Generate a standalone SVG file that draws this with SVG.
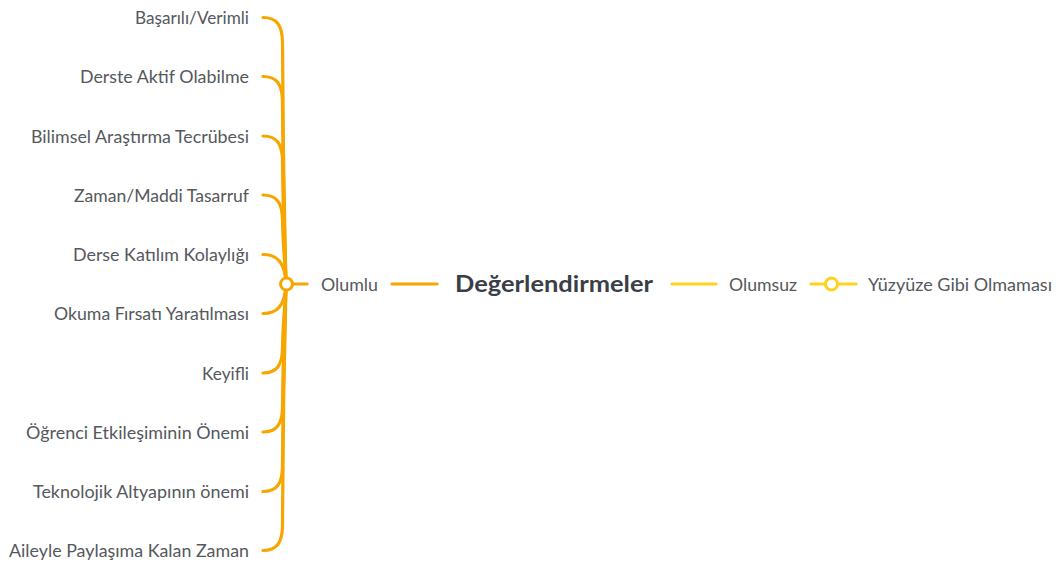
<svg xmlns="http://www.w3.org/2000/svg" width="1056" height="562" viewBox="0 0 1056 562">
<style>
.bg{fill:#ffffff}
.leaf{font-family:Lato,"Open Sans","Liberation Sans",sans-serif;font-size:18px;fill:#55585d}
.main{font-family:Lato,"Open Sans","Liberation Sans",sans-serif;font-size:22px;font-weight:bold;fill:#3a3f47}
.o{fill:none;stroke:#F7A600;stroke-width:3.2;stroke-linecap:round}
.y{fill:none;stroke:#FFD21F;stroke-width:3.2;stroke-linecap:round}
.ring-o{fill:#ffffff;stroke:#F7A600;stroke-width:3}
.ring-y{fill:#ffffff;stroke:#FFD21F;stroke-width:3}
</style>
<rect class="bg" x="0" y="0" width="1056" height="562"/>
<g id="connectors">
<path class="o" d="M263,17.5 C277,17.5 282,25.5 282.5,41.5 C283,162.75 285.5,264 286,284"/>
<path class="o" d="M263,76.5 C277,76.5 282,84.5 282.5,100.5 C283,192 285.5,264 286,284"/>
<path class="o" d="M263,136 C277,136 282,144 282.5,160 C283,222 285.5,264 286,284"/>
<path class="o" d="M263,195 C277,195 282,203 282.5,219 C283,251.5 285.5,266 286,284"/>
<path class="o" d="M263,254.5 C277,254.5 285,262 286,284"/>
<path class="o" d="M263,313.5 C277,313.5 285,306 286,284"/>
<path class="o" d="M263,373 C277,373 282,365 282.5,349 C283,316.5 285.5,302 286,284"/>
<path class="o" d="M263,432 C277,432 282,424 282.5,408 C283,346 285.5,304 286,284"/>
<path class="o" d="M263,491.5 C277,491.5 282,483.5 282.5,467.5 C283,375.75 285.5,304 286,284"/>
<path class="o" d="M263,550.5 C277,550.5 282,542.5 282.5,526.5 C283,405 285.5,304 286,284"/>
<path class="o" d="M292,284 L307,284"/>
<path class="o" d="M392,284 L437,284"/>
<path class="y" d="M672,284 L716,284"/>
<path class="y" d="M811,284 L856,284"/>
</g>
<g id="node-olumlu">
<circle class="ring-o" cx="286.5" cy="284" r="6"/>
<text class="leaf" x="321" y="290.5" textLength="57" lengthAdjust="spacingAndGlyphs">Olumlu</text>
</g>
<g id="node-central">
<text class="main" x="455" y="291.7" textLength="198" lengthAdjust="spacingAndGlyphs">Değerlendirmeler</text>
</g>
<g id="node-olumsuz">
<text class="leaf" x="729" y="290.5" textLength="68" lengthAdjust="spacingAndGlyphs">Olumsuz</text>
</g>
<g id="node-yuzyuze">
<circle class="ring-y" cx="831.5" cy="284" r="6"/>
<text class="leaf" x="868" y="290.5" textLength="184" lengthAdjust="spacingAndGlyphs">Yüzyüze Gibi Olmaması</text>
</g>
<g id="leaf-1"><text class="leaf" x="249" y="24" text-anchor="end" textLength="114" lengthAdjust="spacingAndGlyphs">Başarılı/Verimli</text></g>
<g id="leaf-2"><text class="leaf" x="249" y="83" text-anchor="end" textLength="169" lengthAdjust="spacingAndGlyphs">Derste Aktif Olabilme</text></g>
<g id="leaf-3"><text class="leaf" x="249" y="142.5" text-anchor="end" textLength="218" lengthAdjust="spacingAndGlyphs">Bilimsel Araştırma Tecrübesi</text></g>
<g id="leaf-4"><text class="leaf" x="249" y="201.5" text-anchor="end" textLength="175" lengthAdjust="spacingAndGlyphs">Zaman/Maddi Tasarruf</text></g>
<g id="leaf-5"><text class="leaf" x="249" y="261" text-anchor="end" textLength="176" lengthAdjust="spacingAndGlyphs">Derse Katılım Kolaylığı</text></g>
<g id="leaf-6"><text class="leaf" x="249" y="320" text-anchor="end" textLength="195" lengthAdjust="spacingAndGlyphs">Okuma Fırsatı Yaratılması</text></g>
<g id="leaf-7"><text class="leaf" x="249" y="379.5" text-anchor="end" textLength="47" lengthAdjust="spacingAndGlyphs">Keyifli</text></g>
<g id="leaf-8"><text class="leaf" x="249" y="438.5" text-anchor="end" textLength="223" lengthAdjust="spacingAndGlyphs">Öğrenci Etkileşiminin Önemi</text></g>
<g id="leaf-9"><text class="leaf" x="249" y="498" text-anchor="end" textLength="216" lengthAdjust="spacingAndGlyphs">Teknolojik Altyapının önemi</text></g>
<g id="leaf-10"><text class="leaf" x="249" y="557" text-anchor="end" textLength="240" lengthAdjust="spacingAndGlyphs">Aileyle Paylaşıma Kalan Zaman</text></g>
</svg>
